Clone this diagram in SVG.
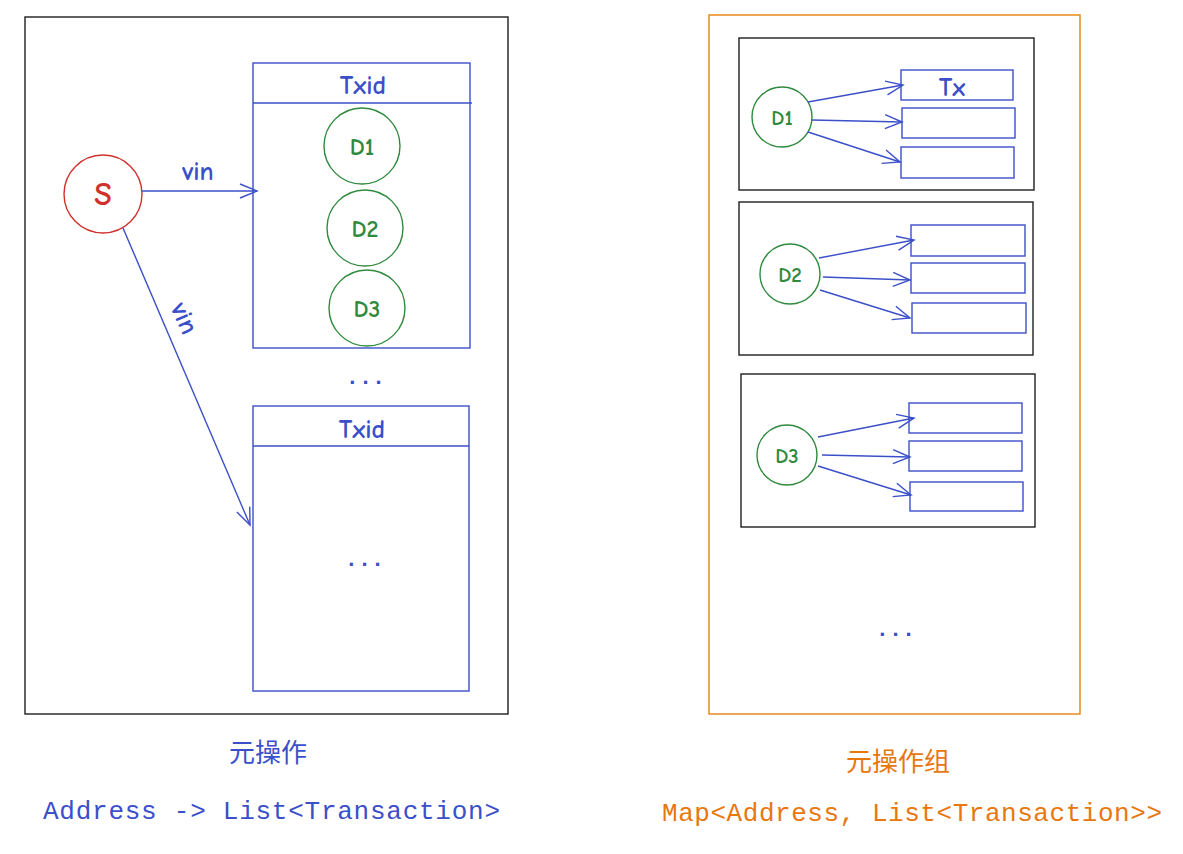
<svg xmlns="http://www.w3.org/2000/svg" width="1183" height="854" viewBox="0 0 1183 854">
<style>
.blk{fill:none;stroke:#1e1e1e;stroke-width:1.4}
.org{fill:none;stroke:#e8820c;stroke-width:1.4}
.blu{fill:none;stroke:#3b4fc9;stroke-width:1.4}
.grn{fill:none;stroke:#2f8a3e;stroke-width:1.4}
.red{fill:none;stroke:#d0312d;stroke-width:1.4}
.hand{font-family:"Comic Neue","Liberation Sans",sans-serif;font-weight:bold}
.tb{fill:#3b4fc9;font-size:26px;text-anchor:middle}
.tg{fill:#2f8a3e;font-size:24px;text-anchor:middle}
.dots{fill:#3b4fc9;font-size:22px;text-anchor:middle;font-family:"Liberation Sans",sans-serif;font-weight:bold;letter-spacing:7px}
.mono{font-family:"Liberation Mono","DejaVu Sans Mono",monospace;font-size:26px}
.cjk{font-family:"Noto Sans CJK SC","Noto Sans",sans-serif;font-size:26px;text-anchor:middle}
</style>
<defs>
<marker id="ah" markerWidth="20" markerHeight="20" refX="18" refY="10" orient="auto" markerUnits="userSpaceOnUse">
<polyline points="1,3 18,10 1,17" fill="none" stroke="#3b4fc9" stroke-width="1.4"/>
</marker>
</defs>
<rect width="1183" height="854" fill="#ffffff"/>
<g id="left-frame"><rect class="blk" x="25" y="17" width="483" height="697"/></g>
<g id="right-frame"><rect class="org" x="709" y="15" width="371" height="699"/></g>
<g id="S"><circle class="red" cx="103" cy="194" r="39"/><text class="hand" x="103" y="205" fill="#d0312d" font-size="32" text-anchor="middle">S</text></g>
<g id="txbox1"><rect class="blu" x="253" y="63" width="217" height="285"/><line class="blu" x1="253" y1="103" x2="472" y2="103"/><text class="hand tb" x="363" y="94">Txid</text></g>
<g id="D1"><circle class="grn" cx="362" cy="146" r="38"/><text class="hand tg" x="362" y="155">D1</text></g>
<g id="D2"><circle class="grn" cx="365" cy="228" r="38"/><text class="hand tg" x="365" y="237">D2</text></g>
<g id="D3"><circle class="grn" cx="367" cy="308" r="38"/><text class="hand tg" x="367" y="317">D3</text></g>
<g id="dots1"><text class="dots" x="369" y="384">...</text></g>
<g id="txbox2"><rect class="blu" x="253" y="406" width="216" height="285"/><line class="blu" x1="253" y1="446" x2="469" y2="446"/><text class="hand tb" x="362" y="438">Txid</text><text class="dots" x="368" y="566">...</text></g>
<g id="group1"><rect class="blk" x="739" y="38" width="295" height="152"/>
<circle class="grn" cx="782" cy="117" r="30"/><text class="hand" x="782" y="125" fill="#2f8a3e" font-size="21" text-anchor="middle">D1</text>
<rect class="blu" x="901" y="70" width="112" height="30"/><text class="hand tb" x="952" y="96">Tx</text>
<rect class="blu" x="902" y="108" width="113" height="30"/>
<rect class="blu" x="901" y="147" width="113" height="31"/></g>
<g id="group2"><rect class="blk" x="739" y="202" width="294" height="153"/>
<circle class="grn" cx="790" cy="274" r="30"/><text class="hand" x="790" y="282" fill="#2f8a3e" font-size="21" text-anchor="middle">D2</text>
<rect class="blu" x="911" y="225" width="114" height="31"/>
<rect class="blu" x="911" y="263" width="114" height="30"/>
<rect class="blu" x="912" y="303" width="114" height="30"/></g>
<g id="group3"><rect class="blk" x="741" y="374" width="294" height="153"/>
<circle class="grn" cx="787" cy="455" r="30"/><text class="hand" x="787" y="463" fill="#2f8a3e" font-size="21" text-anchor="middle">D3</text>
<rect class="blu" x="909" y="403" width="113" height="30"/>
<rect class="blu" x="909" y="441" width="113" height="30"/>
<rect class="blu" x="910" y="482" width="113" height="29"/></g>
<g id="dots2"><text class="dots" x="899" y="636">...</text></g>
<g id="connectors">
<line class="blu" x1="142" y1="191" x2="257" y2="191" marker-end="url(#ah)"/>
<line class="blu" x1="123" y1="228" x2="250" y2="525" marker-end="url(#ah)"/>
<line class="blu" x1="808" y1="102" x2="903" y2="85" marker-end="url(#ah)"/>
<line class="blu" x1="812" y1="120" x2="902" y2="122" marker-end="url(#ah)"/>
<line class="blu" x1="808" y1="132" x2="900" y2="162" marker-end="url(#ah)"/>
<line class="blu" x1="819" y1="258" x2="914" y2="240" marker-end="url(#ah)"/>
<line class="blu" x1="823" y1="277" x2="910" y2="280" marker-end="url(#ah)"/>
<line class="blu" x1="820" y1="290" x2="910" y2="318" marker-end="url(#ah)"/>
<line class="blu" x1="818" y1="437" x2="914" y2="418" marker-end="url(#ah)"/>
<line class="blu" x1="822" y1="455" x2="910" y2="457" marker-end="url(#ah)"/>
<line class="blu" x1="818" y1="466" x2="911" y2="495" marker-end="url(#ah)"/>
<text class="hand" x="198" y="180" fill="#3b4fc9" font-size="26" text-anchor="middle">vin</text>
<text class="hand" x="185" y="327" fill="#3b4fc9" font-size="26" text-anchor="middle" transform="rotate(66 185 318)">vin</text>
</g>
<g id="captions">
<text class="cjk" x="268" y="762" fill="#3b4fc9">元操作</text>
<text class="mono" x="43" y="819" fill="#3b4fc9" textLength="457" lengthAdjust="spacing">Address -&gt; List&lt;Transaction&gt;</text>
<text class="cjk" x="898" y="771" fill="#e8770e">元操作组</text>
<text class="mono" x="662" y="821" fill="#e8770e" textLength="500" lengthAdjust="spacing">Map&lt;Address, List&lt;Transaction&gt;&gt;</text>
</g>
</svg>
